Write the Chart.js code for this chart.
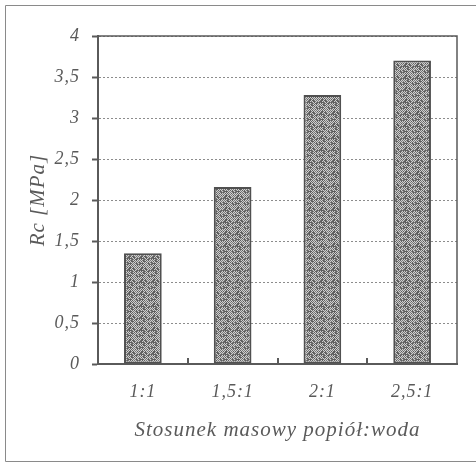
<!DOCTYPE html>
<html>
<head>
<meta charset="utf-8">
<script src="https://cdn.jsdelivr.net/npm/chart.js@4/dist/chart.umd.min.js"></script>
<style>
  html, body { margin: 0; padding: 0; background: #ffffff; }
  #wrap { width: 476px; height: 467px; }
</style>
</head>
<body>
<div id="wrap"><canvas id="c" width="476" height="467"></canvas></div>
<script>
// Compressive strength vs. ash:water mass ratio
const categories = ['1:1', '1,5:1', '2:1', '2,5:1'];
const strengthMPa = [1.35, 2.16, 3.28, 3.70];
const yTickValues = [0, 0.5, 1, 1.5, 2, 2.5, 3, 3.5, 4];

const serif = '"Liberation Serif", "Times New Roman", serif';
const axisFont = { family: serif, style: 'italic', size: 18 };
const titleFont = { family: serif, style: 'italic', size: 21 };
const inkGrey = '#5a5a5a';

// Stippled grey fill for the bars (fixed hash dither, 12x12 tile)
function stipplePattern() {
  const n = 12;
  const p = document.createElement('canvas');
  p.width = n; p.height = n;
  const g = p.getContext('2d');
  g.fillStyle = '#cfcfcf';
  g.fillRect(0, 0, n, n);
  for (let y = 0; y < n; y++) {
    for (let x = 0; x < n; x++) {
      const h = ((x * 73856093) ^ (y * 19349663)) >>> 0;
      const k = (h % 7);
      if ((x + y) % 2 === 0 || k < 2) {
        g.fillStyle = k < 3 ? '#5e5e5e' : '#7a7a7a';
        g.fillRect(x, y, 1, 1);
      }
    }
  }
  return g.createPattern(p, 'repeat');
}

// Outer frame, plot box and inward category ticks
const framePlugin = {
  id: 'frame',
  beforeDraw(chart) {
    const ctx = chart.ctx;
    ctx.letterSpacing = '1px';
    ctx.save();
    ctx.strokeStyle = '#8a8a8a';
    ctx.lineWidth = 1;
    ctx.beginPath();
    ctx.moveTo(476, 5.5); ctx.lineTo(5.5, 5.5); ctx.lineTo(5.5, 461.5); ctx.lineTo(476, 461.5);
    ctx.stroke();
    ctx.restore();
  },
  afterDraw(chart) {
    const { ctx, chartArea: a, scales: { x } } = chart;
    ctx.save();
    ctx.strokeStyle = inkGrey;
    ctx.lineWidth = 1.5;
    ctx.beginPath();
    ctx.moveTo(a.left, a.top); ctx.lineTo(a.right, a.top); ctx.lineTo(a.right, a.bottom);
    ctx.stroke();
    const half = (x.getPixelForTick(1) - x.getPixelForTick(0)) / 2;
    ctx.lineWidth = 2;
    ctx.beginPath();
    for (let i = 0; i < categories.length - 1; i++) {
      const px = Math.round(x.getPixelForTick(i) + half);
      ctx.moveTo(px, a.bottom); ctx.lineTo(px, a.bottom - 6);
    }
    ctx.stroke();
    ctx.restore();
  }
};

new Chart(document.getElementById('c'), {
  type: 'bar',
  data: {
    labels: categories,
    datasets: [{
      data: strengthMPa,
      backgroundColor: stipplePattern(),
      borderColor: '#505050',
      borderWidth: 2,
      borderSkipped: false,
      barPercentage: 0.42,
      categoryPercentage: 1.0
    }]
  },
  options: {
    responsive: false,
    animation: false,
    devicePixelRatio: 1,
    layout: { padding: { top: 36, right: 19, bottom: 0, left: 0 } },
    plugins: { legend: { display: false }, tooltip: { enabled: false } },
    scales: {
      x: {
        grid: { display: false, drawOnChartArea: false, drawTicks: false },
        border: { display: true, color: inkGrey, width: 2 },
        ticks: { font: axisFont, color: inkGrey, padding: 17 },
        title: { display: true, text: 'Stosunek masowy popiół:woda', font: titleFont, color: inkGrey, padding: { top: 10, bottom: 24 } },
        afterFit(s) { s.height = 103; }
      },
      y: {
        min: 0, max: 4,
        afterBuildTicks(s) { s.ticks = yTickValues.map(v => ({ value: v })); },
        grid: {
          color: '#8c8c8c', lineWidth: 1, tickLength: 6,
          tickColor: inkGrey, tickWidth: 2, tickBorderDash: []
        },
        border: { display: true, color: inkGrey, width: 2, dash: [2, 2] },
        ticks: {
          font: axisFont, color: inkGrey, padding: 12,
          callback: v => String(v).replace('.', ',')
        },
        title: { display: true, text: 'Rc [MPa]', font: titleFont, color: inkGrey, padding: { top: 26, bottom: 0 } },
        afterFit(s) { s.width = 98; }
      }
    }
  },
  plugins: [framePlugin]
});
</script>
</body>
</html>
